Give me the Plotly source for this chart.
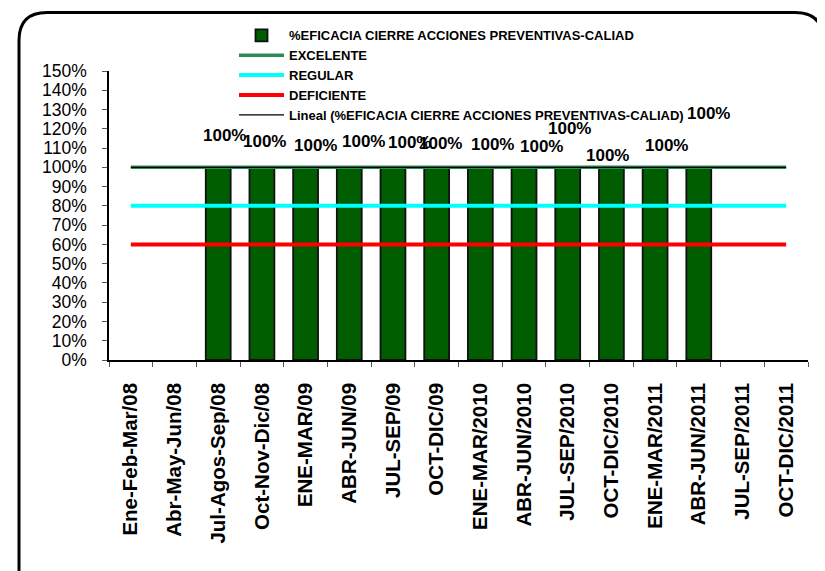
import plotly.graph_objects as go
import numpy as np

categories = ["Ene-Feb-Mar/08", "Abr-May-Jun/08", "Jul-Agos-Sep/08", "Oct-Nov-Dic/08",
              "ENE-MAR/09", "ABR-JUN/09", "JUL-SEP/09", "OCT-DIC/09",
              "ENE-MAR/2010", "ABR-JUN/2010", "JUL-SEP/2010", "OCT-DIC/2010",
              "ENE-MAR/2011", "ABR-JUN/2011", "JUL-SEP/2011", "OCT-DIC/2011"]
eficacia = [None, None, 1.0, 1.0, 1.0, 1.0, 1.0, 1.0, 1.0, 1.0, 1.0, 1.0, 1.0, 1.0, None, None]
excelente = [1.0] * 16
regular = [0.8] * 16
deficiente = [0.6] * 16
y_ticks = [i / 10 for i in range(16)]

# label offsets (pixels) as placed in the original chart
label_dx = [0, 0, 6, 3, 10, 14, 17, 4, 12, 17, 2, -4, 11, 10, 0, 0]
label_dy = [0, 0, 32, 26, 22, 26, 25, 24, 23, 21, 39, 12, 22, 54, 0, 0]

# linear trendline of the series
xi = np.array([i for i, v in enumerate(eficacia) if v is not None], dtype=float)
yi = np.array([v for v in eficacia if v is not None], dtype=float)
m, b = np.polyfit(xi, yi, 1)
trend = [m * i + b for i in range(len(categories))]

FONT = "Arial, Liberation Sans, sans-serif"
OFF = 8  # page body margin
W, H = 825 - OFF, 571 - OFF
L, T = 109 - OFF, 69 - OFF
PW, PH = 699, 291
R = W - L - PW
B = H - T - PH

def px(x):
    return (x - OFF - L) / PW

def py(y):
    return (H - B - (y - OFF)) / PH

fig = go.Figure()
fig.add_trace(go.Bar(x=categories, y=eficacia,
                     name="<b>%EFICACIA CIERRE ACCIONES PREVENTIVAS-CALIAD</b>",
                     marker=dict(color="#005d00", line=dict(color="#111111", width=1.8))))
fig.add_trace(go.Scatter(x=categories, y=excelente, mode="lines", name="<b>EXCELENTE</b>",
                         line=dict(color="#2e8b57", width=3.5)))
fig.add_trace(go.Scatter(x=categories, y=regular, mode="lines", name="<b>REGULAR</b>",
                         line=dict(color="#00ffff", width=4)))
fig.add_trace(go.Scatter(x=categories, y=deficiente, mode="lines", name="<b>DEFICIENTE</b>",
                         line=dict(color="#ff0000", width=4)))
fig.add_trace(go.Scatter(x=categories, y=trend, mode="lines",
                         name="<b>Lineal (%EFICACIA CIERRE ACCIONES PREVENTIVAS-CALIAD)</b>",
                         line=dict(color="#000000", width=1.2)))

for i, v in enumerate(eficacia):
    if v is None:
        continue
    fig.add_annotation(x=categories[i], y=v, text="<b>%d%%</b>" % round(v * 100),
                       showarrow=False, xshift=label_dx[i], yshift=label_dy[i],
                       yanchor="middle", font=dict(family=FONT, size=17, color="#000000"))

# rounded chart border
x0, y0, x1, y1, r = 19, 10, 823, 600, 28
path = (f"M {px(x0)},{py(y0 + r)} Q {px(x0)},{py(y0)} {px(x0 + r)},{py(y0)} "
        f"L {px(x1 - r)},{py(y0)} Q {px(x1)},{py(y0)} {px(x1)},{py(y0 + r)} "
        f"L {px(x1)},{py(y1 - r)} Q {px(x1)},{py(y1)} {px(x1 - r)},{py(y1)} "
        f"L {px(x0 + r)},{py(y1)} Q {px(x0)},{py(y1)} {px(x0)},{py(y1 - r)} Z")
fig.add_shape(type="path", path=path, xref="paper", yref="paper",
              line=dict(color="#000000", width=3), layer="below")

fig.update_layout(
    width=W, height=H,
    margin=dict(l=L, r=R, t=T, b=B),
    paper_bgcolor="white", plot_bgcolor="white",
    bargap=0.43,
    showlegend=True,
    legend=dict(x=px(234), y=py(18), xanchor="left", yanchor="top",
                bgcolor="rgba(255,255,255,1)", font=dict(family=FONT, size=13, color="#000"),
                itemwidth=45, tracegroupgap=0, traceorder="normal"),
    font=dict(family=FONT, color="#000"),
)
fig.update_xaxes(type="category", tickson="boundaries", ticks="outside", ticklen=5,
                 tickcolor="#555", showline=True, linecolor="#000", linewidth=1.5,
                 tickangle=-90, tickfont=dict(family=FONT, size=20.5, color="#000", weight="bold"),
                 ticklabelstandoff=13, showgrid=False, zeroline=False)
fig.update_yaxes(range=[0, 1.5], tickvals=y_ticks, ticktext=["%d%%" % round(t * 100) for t in y_ticks],
                 ticks="outside", ticklen=5, tickcolor="#555", showline=True, linecolor="#000",
                 linewidth=1.5, tickfont=dict(family=FONT, size=17.5, color="#000"),
                 showgrid=False, zeroline=False, ticklabelstandoff=12)

fig.write_html("out.html")
